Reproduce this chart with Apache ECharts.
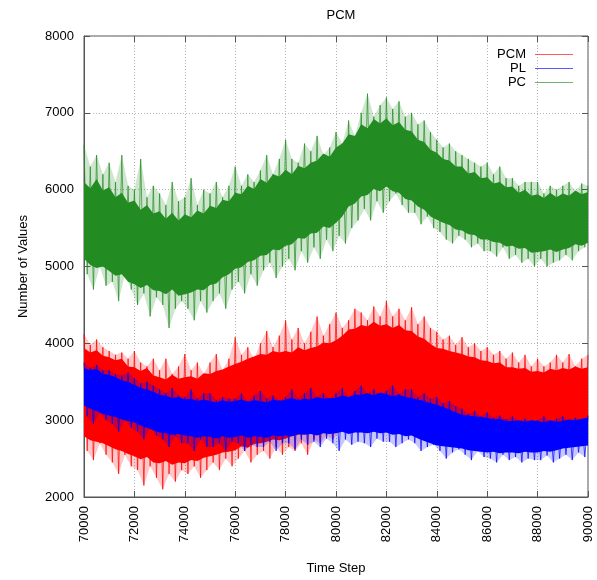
<!DOCTYPE html>
<html>
<head>
<meta charset="utf-8">
<script src="https://cdn.jsdelivr.net/npm/echarts@6/dist/echarts.min.js"></script>
<style>
  html, body { margin: 0; padding: 0; background: #fff; }
  #chart { width: 597px; height: 580px; }
</style>
</head>
<body>
<div id="chart"></div>
<script>
// Axis ticks
const xTicks = [70000, 72000, 74000, 76000, 78000, 80000, 82000, 84000, 86000, 88000, 90000];
const yTicks = [2000, 3000, 4000, 5000, 6000, 7000, 8000];

// Dense core of each trace, sampled every 250 time steps (70000 .. 90000)
const coreStep = 250;
const pcCoreTop = [
  6100, 6020, 6140, 5990, 6030, 5900, 5960, 5830, 5860, 5740, 5800, 5690, 5720, 5620, 5700, 5600,
  5680, 5640, 5730, 5690, 5790, 5760, 5870, 5850, 5960, 5940, 6050, 6010, 6140, 6090, 6200, 6170,
  6260, 6200, 6310, 6280, 6350, 6380, 6470, 6430, 6550, 6600, 6720, 6700, 6850, 6800, 6920, 6860,
  6930, 6840, 6880, 6780, 6760, 6650, 6620, 6520, 6480, 6400, 6380, 6300, 6300, 6210, 6230, 6150,
  6160, 6080, 6100, 6030, 6040, 5960, 6000, 5920, 5940, 5890, 5960, 5900, 5950, 5920, 5990, 5940,
  5970];
const pcCoreBot = [
  5100, 5020, 4980, 5000, 4940, 4880, 4900, 4800, 4770, 4720, 4760, 4690, 4680, 4640, 4700, 4620,
  4640, 4660, 4700, 4690, 4760, 4780, 4860, 4900, 4970, 4990, 5060, 5080, 5140, 5150, 5220, 5210,
  5270, 5290, 5370, 5360, 5430, 5440, 5520, 5500, 5570, 5650, 5780, 5820, 5910, 5930, 6010, 5980,
  6040, 5980, 5960, 5880, 5860, 5780, 5740, 5650, 5610, 5570, 5540, 5480, 5470, 5420, 5410, 5350,
  5350, 5320, 5310, 5260, 5270, 5230, 5240, 5180, 5190, 5200, 5220, 5190, 5220, 5240, 5290, 5270,
  5310];
const pcmCoreTop = [
  3940, 3880, 3910, 3840, 3820, 3780, 3800, 3700, 3690, 3640, 3680, 3580, 3560, 3530, 3590, 3540,
  3560, 3570, 3540, 3610, 3600, 3640, 3660, 3700, 3730, 3760, 3800, 3830, 3860, 3850, 3900, 3880,
  3900, 3880, 3950, 3910, 3940, 3960, 4010, 4000, 4040, 4100, 4180, 4190, 4240, 4220, 4280, 4230,
  4250, 4200, 4240, 4170, 4160, 4090, 4060, 3990, 3940, 3930, 3900, 3880, 3860, 3830, 3820, 3780,
  3770, 3740, 3750, 3690, 3690, 3670, 3680, 3630, 3640, 3620, 3670, 3650, 3680, 3660, 3700, 3670,
  3690];
const pcmCoreBot = [
  2790, 2740, 2720, 2700, 2660, 2620, 2600, 2560, 2530, 2490, 2520, 2450, 2440, 2470, 2420, 2450,
  2440, 2480, 2470, 2510, 2530, 2550, 2580, 2590, 2610, 2660, 2640, 2690, 2700, 2720, 2750, 2740,
  2760, 2790, 2810, 2820, 2840, 2880, 2900, 2930, 2960, 2990, 3020, 3040, 3060, 3080, 3100, 3090,
  3110, 3080, 3090, 3050, 3060, 3020, 3000, 2980, 2960, 2950, 2960, 2930, 2940, 2920, 2940, 2910,
  2910, 2930, 2900, 2920, 2910, 2890, 2920, 2900, 2910, 2930, 2900, 2920, 2910, 2890, 2920, 2900,
  2910];
const plCoreTop = [
  3680, 3650, 3670, 3600, 3590, 3560, 3520, 3500, 3460, 3420, 3400, 3370, 3330, 3320, 3290, 3300,
  3270, 3280, 3250, 3270, 3250, 3230, 3260, 3240, 3250, 3270, 3240, 3260, 3250, 3230, 3270, 3250,
  3270, 3290, 3260, 3280, 3270, 3300, 3280, 3290, 3290, 3320, 3300, 3330, 3330, 3350, 3320, 3360,
  3340, 3310, 3330, 3300, 3290, 3270, 3250, 3220, 3200, 3170, 3140, 3100, 3070, 3060, 3050, 3040,
  3030, 3010, 3020, 2990, 2990, 3000, 2980, 3000, 2990, 2970, 3000, 2980, 2990, 3010, 3000, 3020,
  3030];
const plCoreBot = [
  3190, 3150, 3120, 3080, 3060, 3040, 3010, 2990, 2970, 2930, 2900, 2870, 2840, 2830, 2810, 2820,
  2800, 2790, 2770, 2790, 2780, 2760, 2790, 2770, 2780, 2800, 2770, 2790, 2780, 2770, 2800, 2790,
  2800, 2790, 2820, 2810, 2820, 2800, 2830, 2820, 2830, 2850, 2820, 2840, 2840, 2830, 2850, 2830,
  2840, 2810, 2820, 2790, 2800, 2760, 2730, 2700, 2670, 2660, 2650, 2640, 2630, 2610, 2600, 2590,
  2580, 2590, 2570, 2580, 2580, 2570, 2590, 2580, 2580, 2600, 2590, 2610, 2630, 2640, 2650, 2660,
  2670];

// Peaks every 250 steps (70000 .. 90000) and dips half a step later (70125 .. 89875)
const spikeStep = 250;
const pcPeaks = [
  6580, 6300, 6450, 6200, 6350, 6100, 6450, 6050, 6000, 6400, 5900, 6050, 5950, 5800, 6100, 5850,
  5900, 6150, 5800, 6000, 5950, 6100, 5900, 6050, 6300, 6050, 6200, 6100, 6250, 6450, 6200, 6400,
  6650, 6400, 6350, 6600, 6500, 6700, 6450, 6550, 6750, 6600, 6900, 6700, 7000, 7250, 6950, 7100,
  7200, 7050, 7150, 6950, 7000, 6850, 6900, 6750, 6650, 6550, 6600, 6500, 6450, 6400, 6350, 6300,
  6350, 6200, 6300, 6150, 6150, 6050, 6100, 6100, 6100, 5950, 6050, 6000, 6050, 6100, 5980, 6080,
  6050];
const pcDips = [
  4900, 4700, 5000, 4750, 4800, 4550, 4900, 4700, 4500, 4650, 4350, 4600, 4500, 4200, 4450, 4550,
  4450, 4300, 4550, 4400, 4550, 4650, 4450, 4700, 4800, 4650, 4900, 4750, 4950, 5050, 4850, 5000,
  5100, 4950, 5200, 5050, 5250, 5100, 5350, 5200, 5400, 5300, 5500, 5600, 5750, 5600, 5850, 5700,
  5850, 5950, 5800, 5700, 5700, 5550, 5650, 5500, 5450, 5350, 5300, 5400, 5350, 5250, 5300, 5200,
  5200, 5130, 5250, 5100, 5150, 5050, 5100, 5000, 5100, 5000, 5050, 5080, 5150, 5080, 5200, 5250];
const pcmPeaks = [
  4120, 3980, 4050, 3950, 3900, 3850, 3880, 3800, 3900, 3750, 3700, 3800, 3650, 3800, 3600, 3700,
  3860, 3650, 3750, 3600, 3750, 3860, 3650, 3800, 4080, 3850, 3950, 3800, 4000, 4160, 3950, 4100,
  4300, 4050, 4200, 4000, 4150, 4350, 4100, 4250, 4400, 4200, 4300, 4450, 4400, 4300, 4480, 4350,
  4550, 4350, 4450, 4300, 4470, 4250, 4350, 4200, 4150, 4050, 4100, 3980, 4080, 3950, 4000, 3900,
  3950, 3850, 3900, 3800, 3880, 3750, 3850, 3700, 3800, 3700, 3750, 3850, 3750, 3860, 3700, 3800,
  3850];
const pcmDips = [
  2600, 2480, 2700, 2550, 2450, 2300, 2550, 2400, 2350, 2150, 2400, 2250, 2100, 2300, 2200, 2350,
  2300, 2400, 2250, 2350, 2450, 2350, 2500, 2400, 2500, 2600, 2450, 2550, 2600, 2500, 2650, 2550,
  2650, 2600, 2700, 2550, 2750, 2700, 2800, 2750, 2850, 2900, 2850, 2950, 2950, 2900, 3000, 2950,
  3000, 2950, 3050, 2950, 2950, 2900, 3000, 2900, 2900, 2850, 2950, 2900, 2900, 2850, 2950, 2880,
  2880, 2850, 2920, 2870, 2880, 2850, 2900, 2870, 2850, 2800, 2900, 2860, 2850, 2880, 2900, 2850];
const plPeaks = [
  3750, 3680, 3720, 3650, 3650, 3600, 3580, 3620, 3550, 3480, 3500, 3450, 3400, 3350, 3420, 3320,
  3300, 3400, 3280, 3350, 3350, 3260, 3300, 3280, 3280, 3350, 3250, 3320, 3380, 3280, 3320, 3260,
  3300, 3400, 3280, 3350, 3420, 3300, 3350, 3280, 3350, 3420, 3300, 3380, 3450, 3350, 3400, 3330,
  3380, 3450, 3340, 3400, 3400, 3300, 3350, 3280, 3300, 3220, 3250, 3180, 3150, 3080, 3120, 3050,
  3100, 3030, 3060, 3010, 3050, 2990, 3020, 2980, 3000, 3050, 2980, 3020, 3050, 2990, 3030, 3000,
  3060];
const plDips = [
  3050, 2950, 3100, 3000, 2950, 2850, 3000, 2900, 2850, 2750, 2900, 2800, 2750, 2650, 2800, 2700,
  2700, 2600, 2750, 2650, 2650, 2700, 2600, 2720, 2700, 2600, 2680, 2650, 2650, 2720, 2600, 2700,
  2700, 2620, 2750, 2680, 2720, 2650, 2760, 2700, 2600, 2750, 2680, 2720, 2700, 2650, 2760, 2720,
  2720, 2650, 2700, 2750, 2700, 2600, 2650, 2680, 2600, 2500, 2580, 2620, 2550, 2480, 2600, 2520,
  2500, 2450, 2550, 2480, 2520, 2450, 2500, 2480, 2480, 2540, 2450, 2500, 2550, 2480, 2580, 2520];

const colors = { PCM: '#ff0000', PL: '#0000ff', PC: '#228b22' };
const FONT = '"Liberation Sans", Arial, Helvetica, sans-serif';
const t0 = xTicks[0];

// Filled polygon between an upper and a lower edge, each a list of [x, y]
function polygonSeries(name, upperPts, lowerPts, fill, opacity, z) {
  return {
    name: name, type: 'custom', data: upperPts, silent: true, animation: false, z: z, clip: true,
    encode: { x: 0, y: 1 },
    renderItem: function (params, api) {
      if (params.dataIndex !== 0) return null;
      const upper = upperPts.map(p => api.coord(p));
      const lower = lowerPts.map(p => api.coord(p)).reverse();
      return { type: 'polygon', shape: { points: upper.concat(lower) },
               style: { fill: fill, opacity: opacity } };
    }
  };
}

// Solid band between the core bottom and top
function coreBand(name, color, top, bot, z) {
  const up = top.map((v, i) => [t0 + i * coreStep, v]);
  const lo = bot.map((v, i) => [t0 + i * coreStep, v]);
  return polygonSeries(name + ' core', up, lo, color, 1, z);
}

// Faint fringe reaching out to the spike tips
function fringe(name, color, peaks, dips, z) {
  const up = peaks.map((v, i) => [t0 + i * spikeStep, v]);
  const lo = dips.map((v, i) => [t0 + i * spikeStep + spikeStep / 2, v]);
  return polygonSeries(name + ' fringe', up, lo, color, 0.22, z);
}

// Noisy trace: alternate peaks and dips
function trace(name, color, peaks, dips, z) {
  const data = [];
  peaks.forEach((p, i) => {
    data.push([t0 + i * spikeStep, p]);
    if (i < dips.length) data.push([t0 + i * spikeStep + spikeStep / 2, dips[i]]);
  });
  return { name: name, type: 'line', data: data, symbol: 'none', color: color, z: z,
    lineStyle: { width: 1, color: color, opacity: 0.7 }, silent: true, animation: false };
}

const series = [
  fringe('PC', colors.PC, pcPeaks, pcDips, 2),
  coreBand('PC', colors.PC, pcCoreTop, pcCoreBot, 2),
  trace('PC', colors.PC, pcPeaks, pcDips, 3),
  fringe('PCM', colors.PCM, pcmPeaks, pcmDips, 4),
  coreBand('PCM', colors.PCM, pcmCoreTop, pcmCoreBot, 4),
  trace('PCM', colors.PCM, pcmPeaks, pcmDips, 5),
  fringe('PL', colors.PL, plPeaks, plDips, 6),
  coreBand('PL', colors.PL, plCoreTop, plCoreBot, 6),
  trace('PL', colors.PL, plPeaks, plDips, 7)
];

const xRange = { min: xTicks[0], max: xTicks[xTicks.length - 1], interval: xTicks[1] - xTicks[0] };
const yRange = { min: yTicks[0], max: yTicks[yTicks.length - 1], interval: yTicks[1] - yTicks[0] };
const tickStyle = { show: true, inside: true, length: 6, lineStyle: { color: '#555', width: 1 } };
const gridLine = { show: true, lineStyle: { color: '#b4b4b4', width: 1, type: [1, 2] } };
const plain = v => String(v);

const chart = echarts.init(document.getElementById('chart'), null, { renderer: 'canvas' });
chart.setOption({
  backgroundColor: '#fff',
  animation: false,
  title: {
    text: 'PCM', left: 336, top: 4, textAlign: 'center',
    textStyle: { fontFamily: FONT, fontSize: 13, fontWeight: 'normal', color: '#000' }
  },
  legend: {
    data: ['PCM', 'PL', 'PC'], orient: 'vertical', align: 'right',
    right: 19, top: 43, itemWidth: 38, itemHeight: 1, itemGap: 1, icon: 'rect',
    selectedMode: false, z: 10, itemStyle: { opacity: 0.65 },
    textStyle: { fontFamily: FONT, fontSize: 13, color: '#000', padding: [0, 4, 0, 0] }
  },
  grid: { left: 84, right: 9, top: 36, bottom: 79, show: true, borderColor: '#555', borderWidth: 1, backgroundColor: 'transparent' },
  xAxis: [
    { type: 'value', ...xRange, position: 'bottom',
      name: 'Time Step', nameLocation: 'middle', nameGap: 65,
      nameTextStyle: { fontFamily: FONT, fontSize: 13, color: '#000' },
      axisLine: { show: true, lineStyle: { color: '#555' } },
      axisTick: tickStyle, splitLine: gridLine,
      axisLabel: { rotate: 90, margin: 9, fontFamily: FONT, fontSize: 13, color: '#000', formatter: plain } },
    { type: 'value', ...xRange, position: 'top',
      axisLine: { show: false }, axisTick: tickStyle, splitLine: { show: false },
      axisLabel: { show: false } }
  ],
  yAxis: [
    { type: 'value', ...yRange, position: 'left',
      name: 'Number of Values', nameLocation: 'middle', nameGap: 54,
      nameTextStyle: { fontFamily: FONT, fontSize: 13, color: '#000' },
      axisLine: { show: true, lineStyle: { color: '#555' } },
      axisTick: tickStyle, splitLine: gridLine,
      axisLabel: { margin: 10, fontFamily: FONT, fontSize: 13, color: '#000', formatter: plain } },
    { type: 'value', ...yRange, position: 'right',
      axisLine: { show: false }, axisTick: tickStyle, splitLine: { show: false },
      axisLabel: { show: false } }
  ],
  series: series
});
</script>
</body>
</html>
